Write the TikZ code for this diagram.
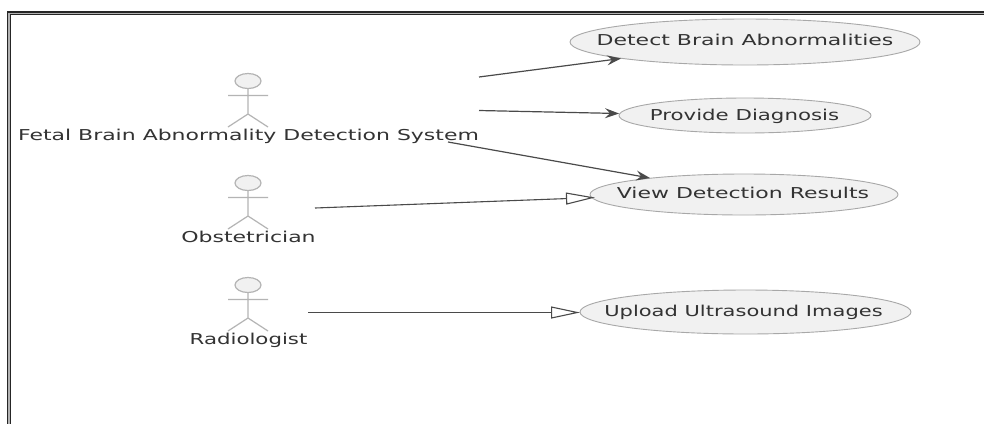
\documentclass[tikz,border=0pt]{standalone}
\usepackage{graphicx}
\usepackage{fontspec}
\setmainfont{DejaVu Sans}
\usetikzlibrary{arrows.meta}
\definecolor{usefill}{HTML}{F1F1F1}
\definecolor{useline}{HTML}{A8A8A8}
\definecolor{actline}{HTML}{B4B4B4}
\definecolor{txt}{HTML}{333333}
\definecolor{conn}{HTML}{4A4A4A}
\tikzset{
  x=1pt,y=-1pt,
  usecase/.style={draw=useline,fill=usefill,line width=0.9pt},
  lbl/.style={text=txt,font=\fontsize{15}{18}\selectfont,inner sep=0pt,anchor=base},
  actdraw/.style={draw=actline,line width=1.2pt},
  assoc/.style={draw=conn,line width=1.2pt,-{Stealth[length=14pt,width=10pt,inset=5pt]}},
  gener/.style={draw=conn,line width=1.1pt,-{Triangle[open,length=29pt,width=12pt,line width=1.1pt,fill=white]}},
}
\newcommand{\actorfig}[1]{%
  \draw[actdraw,fill=usefill] (248,#1) ellipse [x radius=13,y radius=7.5];
  \draw[actdraw] (248,#1+7.5) -- (248,#1+33) (228,#1+14.5) -- (268,#1+14.5)
    (228,#1+46) -- (248,#1+33) -- (268,#1+46);
}
\newcommand{\wide}[2]{\scalebox{#1}[1]{#2}}
\begin{document}
\begin{tikzpicture}
\useasboundingbox (0,0) rectangle (984,424);
\fill[white] (0,0) rectangle (984,424);
\draw[black!85,line width=4.2pt] (984,13.3) -- (9,13.3) -- (9,424);
\draw[black!30,line width=1.6pt] (984,13.3) -- (9,13.3) -- (9,424);
% use cases
\draw[usecase] (745,42) ellipse [x radius=175,y radius=23];
\draw[usecase] (745,115.5) ellipse [x radius=126,y radius=17.5];
\draw[usecase] (744,194.5) ellipse [x radius=154,y radius=20.5];
\draw[usecase] (745.5,312) ellipse [x radius=165.5,y radius=22];
\node[lbl] (uc1) at (745,45) {\wide{1.465}{Detect Brain Abnormalities}};
\node[lbl] (uc2) at (744.5,120) {\wide{1.42}{Provide Diagnosis}};
\node[lbl] (uc3) at (743,198.5) {\wide{1.465}{View Detection Results}};
\node[lbl] (uc4) at (743.5,316.5) {\wide{1.4}{Upload Ultrasound Images}};
% actors
\actorfig{81}
\actorfig{183}
\actorfig{285}
\node[lbl] (a1) at (248.5,140) {\wide{1.464}{Fetal Brain Abnormality Detection System}};
\node[lbl] (a2) at (248.5,242.2) {\wide{1.467}{Obstetrician}};
\node[lbl] (a3) at (248.5,344.5) {\wide{1.42}{Radiologist}};
% connectors
\coordinate (s1) at (479,77);
\coordinate (t1) at (621,58.5);
\coordinate (s2) at (479,110.5);
\coordinate (t2) at (619,113.5);
\coordinate (s3) at (448,142);
\coordinate (t3) at (650,178);
\coordinate (s4) at (315,208);
\coordinate (t4) at (595,197.5);
\coordinate (s5) at (308,312.5);
\coordinate (t5) at (580,312.5);
\draw[assoc] (s1) -- (t1);
\draw[assoc] (s2) -- (t2);
\draw[assoc] (s3) -- (t3);
\draw[gener] (s4) -- (t4);
\draw[gener] (s5) -- (t5);
\end{tikzpicture}
\end{document}
